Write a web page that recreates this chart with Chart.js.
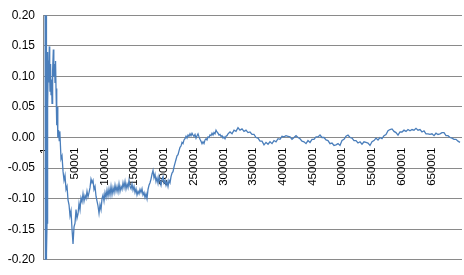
<!DOCTYPE html>
<html>
<head>
<meta charset="utf-8">
<script src="https://cdn.jsdelivr.net/npm/chart.js@4/dist/chart.umd.min.js"></script>
<style>
  html, body { margin: 0; padding: 0; background: #fff; }
  #wrap { width: 464px; height: 275px; }
</style>
</head>
<body>
<div id="wrap"><canvas id="c"></canvas></div>
<script>
// [sample number, value] pairs
// First ~25k samples: wild swings, then oscillation near 0.1
const earlyTrace = [
  [1, 0.35], [250, -0.35], [500, 0.30], [750, -0.28], [1000, 0.25], [1250, -0.24],
  [1500, 0.22], [1750, -0.21], [2000, 0.20], [2250, -0.20], [2500, 0.02], [2900, -0.19],
  [3400, -0.14], [4000, 0.14], [4700, 0.05], [5400, 0.126], [6100, 0.09], [7200, 0.149],
  [7900, 0.10], [8400, 0.076], [9300, 0.12], [10100, 0.07], [10900, 0.095], [11800, 0.056],
  [12800, 0.11], [14000, 0.144], [14800, 0.10], [16000, 0.12], [16800, 0.09], [17700, 0.125],
  [18500, 0.08], [19700, 0.02], [20500, 0.05], [21500, 0.0], [22700, 0.012], [23900, -0.005],
  [24900, 0.01]
];
// Drop to the minimum and noisy recovery up to ~308k
const driftTrace = [
  [26912, -0.035], [28594, -0.03], [30276, -0.055], [31958, -0.07], [33640, -0.062],
  [35322, -0.085], [37004, -0.08], [38686, -0.102], [40368, -0.11], [42050, -0.128],
  [43732, -0.12], [45414, -0.15], [47096, -0.174], [48778, -0.146], [50460, -0.14],
  [52142, -0.118], [53824, -0.132], [55506, -0.125], [57188, -0.108], [58870, -0.118],
  [60552, -0.099], [62234, -0.105], [63916, -0.092], [65598, -0.104], [67280, -0.095],
  [68962, -0.1], [70644, -0.088], [72326, -0.097], [74008, -0.09], [75690, -0.082],
  [77372, -0.068], [79054, -0.074], [80736, -0.07], [82418, -0.085], [84100, -0.08],
  [85782, -0.096], [87464, -0.104], [89146, -0.112], [90828, -0.124], [92510, -0.11],
  [94192, -0.118], [95874, -0.1], [97556, -0.094], [99238, -0.104], [100920, -0.09],
  [102602, -0.098], [104284, -0.086], [105966, -0.096], [107648, -0.084], [109330, -0.094],
  [111012, -0.08], [112694, -0.093], [114376, -0.082], [116058, -0.09], [117740, -0.078],
  [119422, -0.088], [121104, -0.08], [122786, -0.089], [124468, -0.076], [126150, -0.088],
  [127832, -0.08], [129514, -0.085], [131196, -0.074], [132878, -0.082], [134560, -0.072],
  [136242, -0.084], [137924, -0.076], [139606, -0.082], [141288, -0.07], [142970, -0.08],
  [144652, -0.084], [146334, -0.076], [148016, -0.086], [149698, -0.08], [151380, -0.09],
  [153062, -0.084], [154744, -0.094], [156426, -0.088], [158108, -0.092], [159790, -0.085],
  [161472, -0.09], [163154, -0.084], [164836, -0.094], [166518, -0.09], [168200, -0.098],
  [169882, -0.092], [171564, -0.1], [173246, -0.085], [174928, -0.078], [176610, -0.074],
  [178292, -0.068], [179974, -0.06], [181656, -0.054], [183338, -0.066], [185020, -0.06],
  [186702, -0.072], [188384, -0.066], [190066, -0.075], [191748, -0.064], [193430, -0.072],
  [195112, -0.078], [196794, -0.068], [198476, -0.064], [200158, -0.074], [201840, -0.07],
  [203522, -0.078], [205204, -0.072], [206886, -0.08], [208568, -0.07], [210250, -0.074],
  [211932, -0.064], [213614, -0.058], [215296, -0.056], [216978, -0.048], [218660, -0.042],
  [220342, -0.036], [222024, -0.03], [223706, -0.028], [225388, -0.022], [227070, -0.016],
  [228752, -0.014], [230434, -0.008], [232116, -0.01], [233798, -0.004], [235480, -0.002],
  [237162, 0.002], [238844, -0.001], [240526, 0.004], [242208, 0.002], [243890, 0.006],
  [245572, 0.003], [247254, 0.007], [248936, 0.004], [250618, 0.002], [252300, 0.005],
  [253982, -0.001], [255664, 0.003], [257346, 0.006], [259028, 0.001], [260710, -0.003],
  [262392, -0.006], [264074, -0.01], [265756, -0.007], [267438, -0.01], [269120, -0.004],
  [270802, -0.002], [272484, -0.004], [274166, 0.001], [275848, 0.0], [277530, 0.004],
  [279212, 0.003], [280894, 0.007], [282576, 0.004], [284258, 0.008], [285940, 0.006],
  [287622, 0.012], [289304, 0.009], [290986, 0.007], [292668, 0.004], [294350, 0.005],
  [296032, 0.002], [297714, 0.003], [299396, -0.001], [301078, 0.001], [302760, -0.002],
  [304442, 0.002], [306124, 0.003], [307806, 0.006]
];
// Settling around zero to the end
const settleTrace = [
  [311170, 0.009], [314534, 0.006], [317898, 0.012], [321262, 0.010], [324626, 0.016],
  [327990, 0.012], [331354, 0.014], [334718, 0.010], [338082, 0.012], [341446, 0.008],
  [344810, 0.009], [348174, 0.005], [351538, 0.005], [354902, 0.0], [358266, -0.001],
  [361630, -0.006], [364994, -0.006], [368358, -0.012], [371722, -0.008], [375086, -0.011],
  [378450, -0.007], [381814, -0.010], [385178, -0.005], [388542, -0.007], [391906, -0.002],
  [395270, -0.003], [398634, 0.002], [401998, 0.001], [405362, 0.003], [408726, 0.002],
  [412090, 0.001], [415454, -0.003], [418818, 0.0], [422182, 0.003], [425546, 0.0],
  [428910, -0.002], [432274, -0.006], [435638, -0.007], [439002, -0.010], [442366, -0.005],
  [445730, -0.008], [449094, -0.003], [452458, -0.003], [455822, 0.001], [459186, 0.001],
  [462550, 0.004], [465914, 0.0], [469278, 0.0], [472642, -0.004], [476006, -0.005],
  [479370, -0.010], [482734, -0.009], [486098, -0.013], [489462, -0.012], [492826, -0.010],
  [496190, -0.013], [499554, -0.005], [502918, -0.003], [506282, 0.002], [509646, 0.004],
  [513010, 0.0], [516374, -0.001], [519738, -0.005], [523102, -0.005], [526466, -0.009],
  [529830, -0.007], [533194, -0.011], [536558, -0.007], [539922, -0.008], [543286, -0.009],
  [546650, -0.013], [550014, -0.007], [553378, -0.005], [556742, -0.001], [560106, -0.004],
  [563470, 0.0], [566834, -0.002], [570198, 0.003], [573562, 0.005], [576926, 0.011],
  [580290, 0.013], [583654, 0.014], [587018, 0.010], [590382, 0.008], [593746, 0.004],
  [597110, 0.009], [600474, 0.009], [603838, 0.012], [607202, 0.010], [610566, 0.013],
  [613930, 0.011], [617294, 0.013], [620658, 0.012], [624022, 0.015], [627386, 0.012],
  [630750, 0.013], [634114, 0.009], [637478, 0.011], [640842, 0.006], [644206, 0.006],
  [647570, 0.005], [650934, 0.006], [654298, 0.003], [657662, 0.007], [661026, 0.005],
  [664390, 0.006], [667754, 0.008], [671118, 0.008], [674482, 0.003], [677846, 0.003],
  [681210, 0.0], [684574, -0.001], [687938, -0.003], [691302, -0.003], [694666, -0.006],
  [698030, -0.008]
];
// Category tick labels shown on the horizontal axis
const xTickLabels = [1, 50001, 100001, 150001, 200001, 250001, 300001, 350001,
  400001, 450001, 500001, 550001, 600001, 650001];
// Value axis range and step
const yMin = -0.20, yMax = 0.20, yStep = 0.05;

const points = earlyTrace.concat(driftTrace, settleTrace).map(p => ({ x: p[0], y: p[1] }));

const gridGrey = '#8a8a8a';

new Chart(document.getElementById('c'), {
  type: 'line',
  data: {
    datasets: [{
      data: points,
      borderColor: '#4a7ebb',
      borderWidth: 1.3,
      pointRadius: 0,
      tension: 0,
      fill: false
    }]
  },
  options: {
    responsive: true,
    maintainAspectRatio: false,
    animation: false,
    events: [],
    layout: { padding: { top: 0, right: 2, bottom: 3, left: 0 } },
    plugins: { legend: { display: false }, tooltip: { enabled: false } },
    scales: {
      x: {
        type: 'linear',
        position: { y: 0 },
        min: -3400,
        max: 701400,
        z: 1,
        afterBuildTicks: (scale) => {
          scale.ticks = xTickLabels.map(v => ({ value: v }));
        },
        ticks: {
          autoSkip: false,
          minRotation: 90,
          maxRotation: 90,
          padding: 10,
          color: '#000',
          font: { family: 'Liberation Sans', size: 11.5 },
          callback: (v) => String(v)
        },
        grid: { display: false, drawTicks: false },
        border: { display: false }
      },
      y: {
        min: yMin,
        max: yMax,
        afterFit: (scale) => { scale.width = 43; },
        ticks: {
          stepSize: yStep,
          padding: 8,
          color: '#000',
          font: { family: 'Liberation Sans', size: 12 },
          callback: (v) => Number(v).toFixed(2)
        },
        grid: { color: gridGrey, lineWidth: 1, drawTicks: false },
        border: { display: true, color: gridGrey, width: 1 }
      }
    }
  }
});
</script>
</body>
</html>
